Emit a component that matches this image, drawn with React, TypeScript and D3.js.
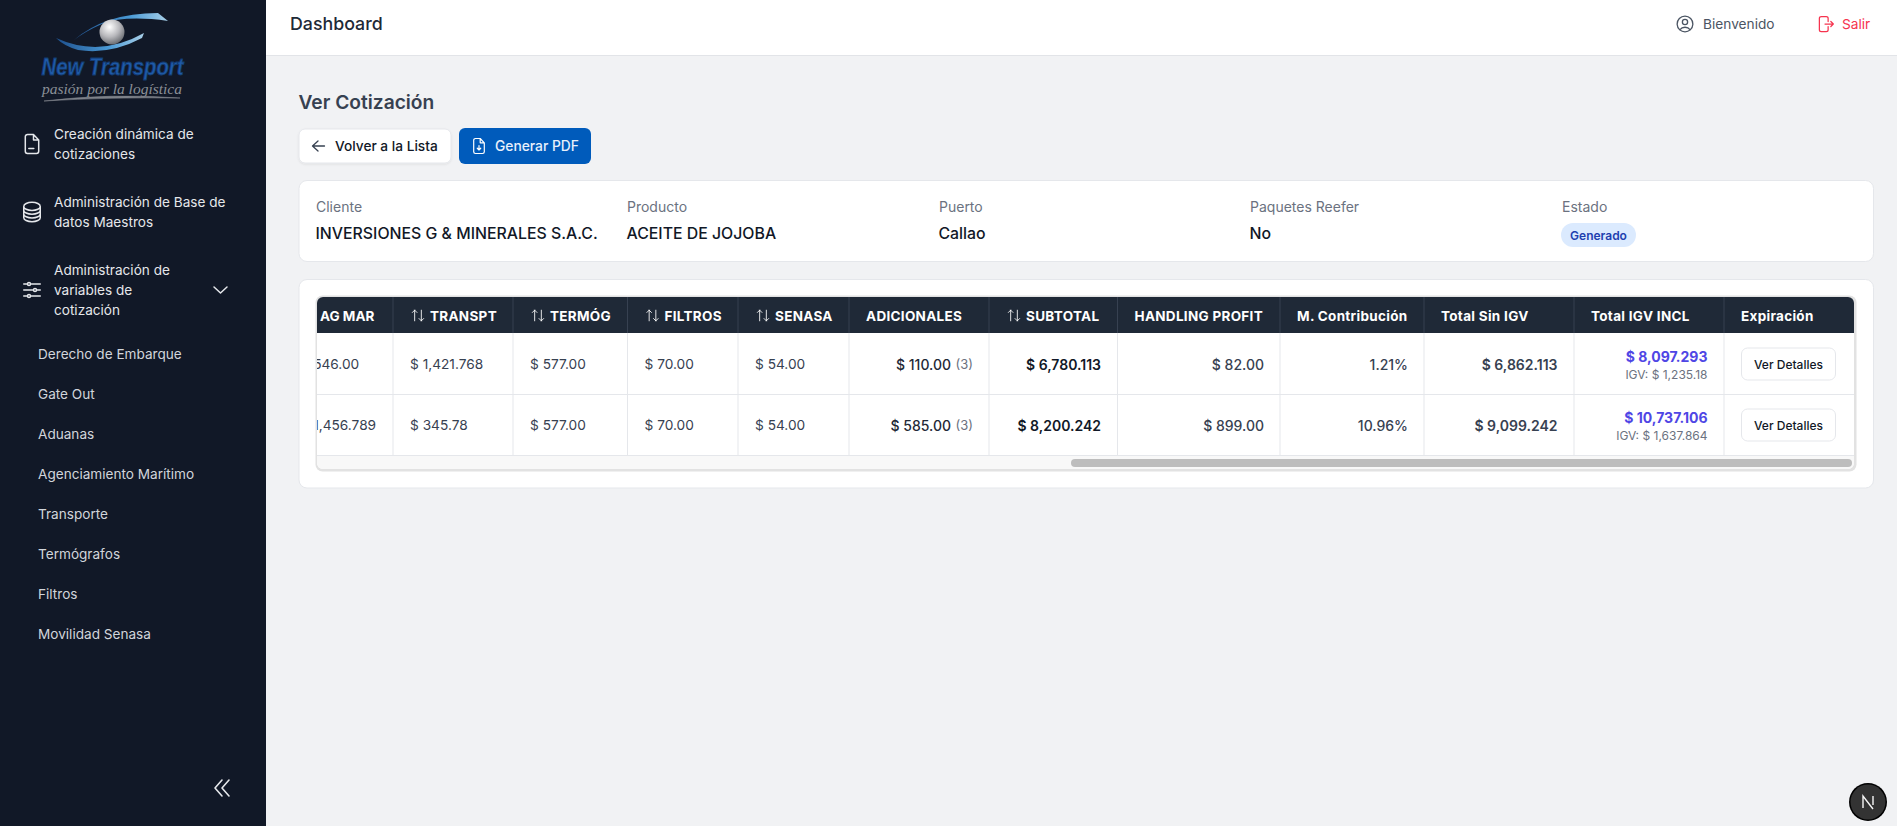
import React from "react";
import * as d3 from "d3";

// ---------- data ----------
const topMenu = [
  ["Creación dinámica de", "cotizaciones"],
  ["Administración de Base de", "datos Maestros"],
  ["Administración de", "variables de", "cotización"],
];
const subMenu = ["Derecho de Embarque", "Gate Out", "Aduanas", "Agenciamiento Marítimo", "Transporte", "Termógrafos", "Filtros", "Movilidad Senasa"];
const infoLabels = ["Cliente", "Producto", "Puerto", "Paquetes Reefer", "Estado"];
const infoValues = ["INVERSIONES G & MINERALES S.A.C.", "ACEITE DE JOJOBA", "Callao", "No"];
const columns = ["AG MAR", "TRANSPT", "TERMÓG", "FILTROS", "SENASA", "ADICIONALES", "SUBTOTAL", "HANDLING PROFIT", "M. Contribución", "Total Sin IGV", "Total IGV INCL", "Expiración"];
const sortable = ["TRANSPT", "TERMÓG", "FILTROS", "SENASA", "SUBTOTAL"];
const rowIds = ["r1", "r2"];
const agMar = ["$ 546.00", "$ 1,456.789"];
const transpt = ["$ 1,421.768", "$ 345.78"];
const termog = ["$ 577.00", "$ 577.00"];
const filtros = ["$ 70.00", "$ 70.00"];
const senasa = ["$ 54.00", "$ 54.00"];
const adicionales = ["$ 110.00", "$ 585.00"];
const adicionalesCount = ["(3)", "(3)"];
const subtotal = ["$ 6,780.113", "$ 8,200.242"];
const handling = ["$ 82.00", "$ 899.00"];
const contribucion = ["1.21%", "10.96%"];
const totalSinIgv = ["$ 6,862.113", "$ 9,099.242"];
const totalIgvIncl = ["$ 8,097.293", "$ 10,737.106"];
const igv = ["IGV: $ 1,235.18", "IGV: $ 1,637.864"];

// ---------- layout scales ----------
const colLeft = d3.scaleOrdinal<string, number>(columns, [283.5, 393, 513, 627.5, 738, 849, 989, 1117.5, 1280, 1424, 1574, 1724]);
const colRight = d3.scaleOrdinal<string, number>(columns, [393, 513, 627.5, 738, 849, 989, 1117.5, 1280, 1424, 1574, 1724, 1854]);
const rowY = d3.scaleBand<string>().domain(rowIds).range([333.5, 455.5]);
const subY = d3.scalePoint<string>().domain(subMenu).range([353.5, 633.5]);
const infoX = d3.scaleOrdinal<string, number>(infoLabels, [316, 627, 939, 1250, 1562]);
const topY = [[133.5, 153.5], [201.5, 221.5], [269.5, 289.5, 309.5]];

const F = "Inter, 'Noto Sans', sans-serif";
const DOC = "M13.5 2.5H7.5a2.2 2.2 0 00-2.2 2.2v14.6a2.2 2.2 0 002.2 2.2h9a2.2 2.2 0 002.2-2.2V8l-5.2-5.5zM13.5 2.5V8h5.2M8.8 16.5h5";
const STACK = "M20.25 6.375c0 2.278-3.694 4.125-8.25 4.125S3.75 8.653 3.75 6.375m16.5 0c0-2.278-3.694-4.125-8.25-4.125S3.75 4.097 3.75 6.375m16.5 0v11.25c0 2.278-3.694 4.125-8.25 4.125s-8.25-1.847-8.25-4.125V6.375m16.5 0v3.75m-16.5-3.75v3.75m16.5 0v3.75C20.25 16.153 16.556 18 12 18s-8.25-1.847-8.25-4.125v-3.75m16.5 0c0 2.278-3.694 4.125-8.25 4.125s-8.25-1.847-8.25-4.125";
const SLIDERS = "M10.5 6h9.75M10.5 6a1.5 1.5 0 11-3 0m3 0a1.5 1.5 0 10-3 0M3.75 6H7.5m3 12h9.75m-9.75 0a1.5 1.5 0 01-3 0m3 0a1.5 1.5 0 00-3 0m-3.75 0H7.5m9-6h3.75m-3.75 0a1.5 1.5 0 01-3 0m3 0a1.5 1.5 0 00-3 0m-9.75 0h9.75";
const USER = "M17.982 18.725A7.488 7.488 0 0012 15.75a7.488 7.488 0 00-5.982 2.975m11.963 0a9 9 0 10-11.963 0m11.963 0A8.966 8.966 0 0112 21a8.966 8.966 0 01-5.982-2.275M15 9.75a3 3 0 11-6 0 3 3 0 016 0z";
const EXIT = "M15.75 9V5.25A2.25 2.25 0 0013.5 3h-6a2.25 2.25 0 00-2.25 2.25v13.5A2.25 2.25 0 007.5 21h6a2.25 2.25 0 002.25-2.25V15M12 12h10m-3-3l3 3-3 3";
const SORT = "M7 20V4M7 4L3.5 7.5M7 4l3.5 3.5M17 4v16m0 0l3.5-3.5M17 20l-3.5-3.5";
const PDF = "M13.5 2.5H7.5a2.2 2.2 0 00-2.2 2.2v14.6a2.2 2.2 0 002.2 2.2h9a2.2 2.2 0 002.2-2.2V8l-5.2-5.5zM13.5 2.5V8h5.2M12 11.5v5.5m0 0l-2.2-2.2M12 17l2.2-2.2";

const Icon = ({ d, x, y, size, color, w = 1.5 }: any) => (
  <path d={d} transform={`translate(${x},${y}) scale(${size / 24})`} fill="none" stroke={color} strokeWidth={w} strokeLinecap="round" strokeLinejoin="round" />
);
const T = ({ x, y, size = 14, weight = 400, color = "#111827", anchor = "start", spacing = 0, children, family = F, italic = false }: any) => (
  <text x={x} y={y} fontFamily={family} fontSize={size} fontWeight={weight} fill={color} textAnchor={anchor} dominantBaseline="central" letterSpacing={spacing} fontStyle={italic ? "italic" : "normal"}>{children}</text>
);

const Logo = () => (
  <g>
    <defs>
      <linearGradient id="sw" x1="0" x2="1" y1="0" y2="0">
        <stop offset="0" stopColor="#1d4f8c" />
        <stop offset="0.6" stopColor="#4a9ad6" />
        <stop offset="1" stopColor="#a8cfe8" />
      </linearGradient>
      <radialGradient id="sp" cx="0.4" cy="0.3" r="0.8">
        <stop offset="0" stopColor="#ffffff" />
        <stop offset="0.5" stopColor="#b8b8bc" />
        <stop offset="1" stopColor="#55585e" />
      </radialGradient>
    </defs>
    <path d="M74,40 Q105,13 158,13 L168,21 Q125,15 102,24 Q86,31 74,40Z" fill="url(#sw)" />
    <path d="M56,38 Q100,58 144,33 L142,38 Q110,55 78,50 Q64,46 56,38Z" fill="url(#sw)" />
    <circle cx={112} cy={32} r={12.5} fill="url(#sp)" />
    <text x={112.5} y={75} fontFamily="'Liberation Sans', sans-serif" fontWeight={700} fontStyle="italic" fontSize={23} fill="#1f5aa8" stroke="#123a70" strokeWidth={0.8} textAnchor="middle" textLength={142} lengthAdjust="spacingAndGlyphs">New Transport</text>
    <text x={112} y={93.5} fontFamily="'Liberation Serif', serif" fontStyle="italic" fontSize={15} fill="#8a8f96" textAnchor="middle" textLength={140} lengthAdjust="spacingAndGlyphs">pasión por la logística</text>
    <path d="M44,101 Q110,93 180,98 Q110,97 44,101Z" fill="#7d828a" stroke="#7d828a" strokeWidth={0.6} />
  </g>
);

const money = [agMar, transpt, termog, filtros, senasa];

export default function App() {
  return (
    <svg width={1897} height={826} viewBox="0 0 1897 826" style={{ position: "absolute", left: 0, top: 0, display: "block" }}>
      <defs>
        <filter id="sh" x="-5%" y="-10%" width="110%" height="130%">
          <feDropShadow dx="0" dy="1" stdDeviation="1" floodColor="#000" floodOpacity="0.08" />
        </filter>
      </defs>
      <rect width={1897} height={826} fill="#f1f2f4" />
      {/* sidebar */}
      <rect width={266} height={826} fill="#111827" />
      <Logo />
      <Icon d={DOC} x={20} y={132} size={24} color="#e5e7eb" />
      <Icon d={STACK} x={20} y={200} size={24} color="#e5e7eb" />
      <Icon d={SLIDERS} x={20} y={278} size={24} color="#e5e7eb" />
      {topMenu.map((lines, i) => lines.map((l, j) => (
        <T key={l} x={54} y={topY[i][j]} size={13.6} color="#e5e7eb">{l}</T>
      )))}
      <path d="M214,287 L220.5,293 L227,287" fill="none" stroke="#e5e7eb" strokeWidth={1.5} strokeLinecap="round" strokeLinejoin="round" />
      {subMenu.map(s => <T key={s} x={38} y={subY(s)} size={13.6} color="#d1d5db">{s}</T>)}
      <path d="M222,780 L215,788 L222,796 M229,780 L222,788 L229,796" fill="none" stroke="#e5e7eb" strokeWidth={1.6} strokeLinecap="round" strokeLinejoin="round" />

      {/* header */}
      <rect x={266} width={1631} height={55} fill="#ffffff" />
      <rect x={266} y={55} width={1631} height={1} fill="#e2e4e8" />
      <T x={290} y={23.5} size={17.8} weight={500} color="#1f2937">Dashboard</T>
      <Icon d={USER} x={1674.5} y={13.5} size={21} color="#4b5563" />
      <T x={1703} y={24} size={13.7} color="#4b5563">Bienvenido</T>
      <Icon d={EXIT} x={1815} y={14} size={20} color="#f6344f" />
      <T x={1842} y={24} size={13.7} color="#f6344f">Salir</T>

      {/* title and buttons */}
      <T x={298.5} y={102} size={19.2} weight={600} color="#374151">Ver Cotización</T>
      <rect x={299} y={129} width={152} height={34} rx={6} fill="#fff" stroke="#e5e7eb" filter="url(#sh)" />
      <path d="M324.5,146 H313 M318,141 L312.5,146 L318,151" fill="none" stroke="#374151" strokeWidth={1.3} strokeLinecap="round" strokeLinejoin="round" />
      <T x={335} y={146} size={13.7} weight={500}>Volver a la Lista</T>
      <rect x={459} y={128} width={132} height={36} rx={6} fill="#005bbb" />
      <Icon d={PDF} x={469.5} y={136.5} size={19} color="#ffffff" />
      <T x={495} y={146} size={13.8} weight={500} color="#e8f0fb">Generar PDF</T>

      {/* info card */}
      <rect x={299} y={180.5} width={1574.5} height={81} rx={8} fill="#fff" stroke="#e5e7eb" />
      {infoLabels.map(l => <T key={l} x={infoX(l)} y={206.5} color="#6b7280">{l}</T>)}
      {infoValues.map((v, i) => <T key={v} x={infoX(infoLabels[i]) - 0.5} y={233} size={15.85} weight={500}>{v}</T>)}
      <rect x={1561} y={223} width={75} height={24} rx={12} fill="#dbeafe" />
      <T x={1598.5} y={235} size={12} weight={600} color="#1e40af" anchor="middle">Generado</T>

      {/* table card */}
      <rect x={299} y={279.5} width={1574.5} height={208.5} rx={8} fill="#fff" stroke="#e5e7eb" />
      <defs><clipPath id="tbl"><rect x={317} y={297} width={1537} height={172} rx={6} /></clipPath></defs>
      <rect x={315.5} y={295.5} width={1541} height={176} rx={7} fill="#e2e2e2" />
      <g clipPath="url(#tbl)">
        <rect x={317} y={297} width={1537} height={172} fill="#fff" />
        <rect x={317} y={297} width={1537} height={36} fill="#1f2937" />
        <rect x={317} y={456} width={1537} height={13.5} fill="#f8f8f8" />
        <rect x={1071} y={459} width={781} height={8} rx={4} fill="#bdbdbd" />
        {columns.slice(0, -1).map(c => (
          <g key={c}>
            <line x1={colRight(c)} x2={colRight(c)} y1={297} y2={333} stroke="#374151" />
            <line x1={colRight(c)} x2={colRight(c)} y1={333} y2={455.5} stroke="#e5e7eb" />
          </g>
        ))}
        {rowIds.map(r => <line key={r} x1={317} x2={1854} y1={(rowY(r) as number) + rowY.bandwidth()} y2={(rowY(r) as number) + rowY.bandwidth()} stroke="#e5e7eb" />)}
        {columns.map(c => {
          const sorted = sortable.includes(c);
          const x = colLeft(c) + 17;
          return (
            <g key={c}>
              {sorted && <Icon d={SORT} x={x} y={307.5} size={16} color="#ffffff" w={1.3} />}
              <T x={c === "AG MAR" ? 320 : sorted ? x + 20 : x} y={315.5} weight={700} size={13.5} color="#ffffff" spacing={c === "AG MAR" ? 0 : 0.3}>{c}</T>
            </g>
          );
        })}
        {rowIds.map((r, i) => {
          const cy = (rowY(r) as number) + rowY.bandwidth() / 2;
          return (
            <g key={r}>
              {money.map((vals, k) => <T key={k} x={colLeft(columns[k]) + 17} y={cy} size={13.7} color="#374151">{vals[i]}</T>)}
              <T x={colRight("ADICIONALES") - 16} y={cy} size={13} color="#6b7280" anchor="end">{adicionalesCount[i]}</T>
              <T x={colRight("ADICIONALES") - 38} y={cy} weight={500} color="#1f2937" anchor="end">{adicionales[i]}</T>
              <T x={colRight("SUBTOTAL") - 16.5} y={cy} weight={600} anchor="end">{subtotal[i]}</T>
              <T x={colRight("HANDLING PROFIT") - 16} y={cy} weight={500} color="#374151" anchor="end">{handling[i]}</T>
              <T x={colRight("M. Contribución") - 16} y={cy} weight={500} color="#374151" anchor="end">{contribucion[i]}</T>
              <T x={colRight("Total Sin IGV") - 16.5} y={cy} weight={600} color="#374151" anchor="end">{totalSinIgv[i]}</T>
              <T x={colRight("Total IGV INCL") - 16.5} y={cy - 8} weight={700} color="#4f46e5" anchor="end">{totalIgvIncl[i]}</T>
              <T x={colRight("Total IGV INCL") - 16.5} y={cy + 10} size={12} color="#6b7280" anchor="end">{igv[i]}</T>
              <rect x={1741.5} y={cy - 16} width={94} height={32} rx={6} fill="#fff" stroke="#e5e7eb" />
              <T x={1788.5} y={cy} size={12} weight={500} anchor="middle">Ver Detalles</T>
            </g>
          );
        })}
      </g>

      {/* dev badge */}
      <circle cx={1868} cy={802} r={19} fill="#000" />
      <circle cx={1868} cy={802} r={17.5} fill="#333" />
      <path d="M1863,808 V796 L1873,809 M1873,796 V805" fill="none" stroke="#f5f5f5" strokeWidth={1.4} />
    </svg>
  );
}
